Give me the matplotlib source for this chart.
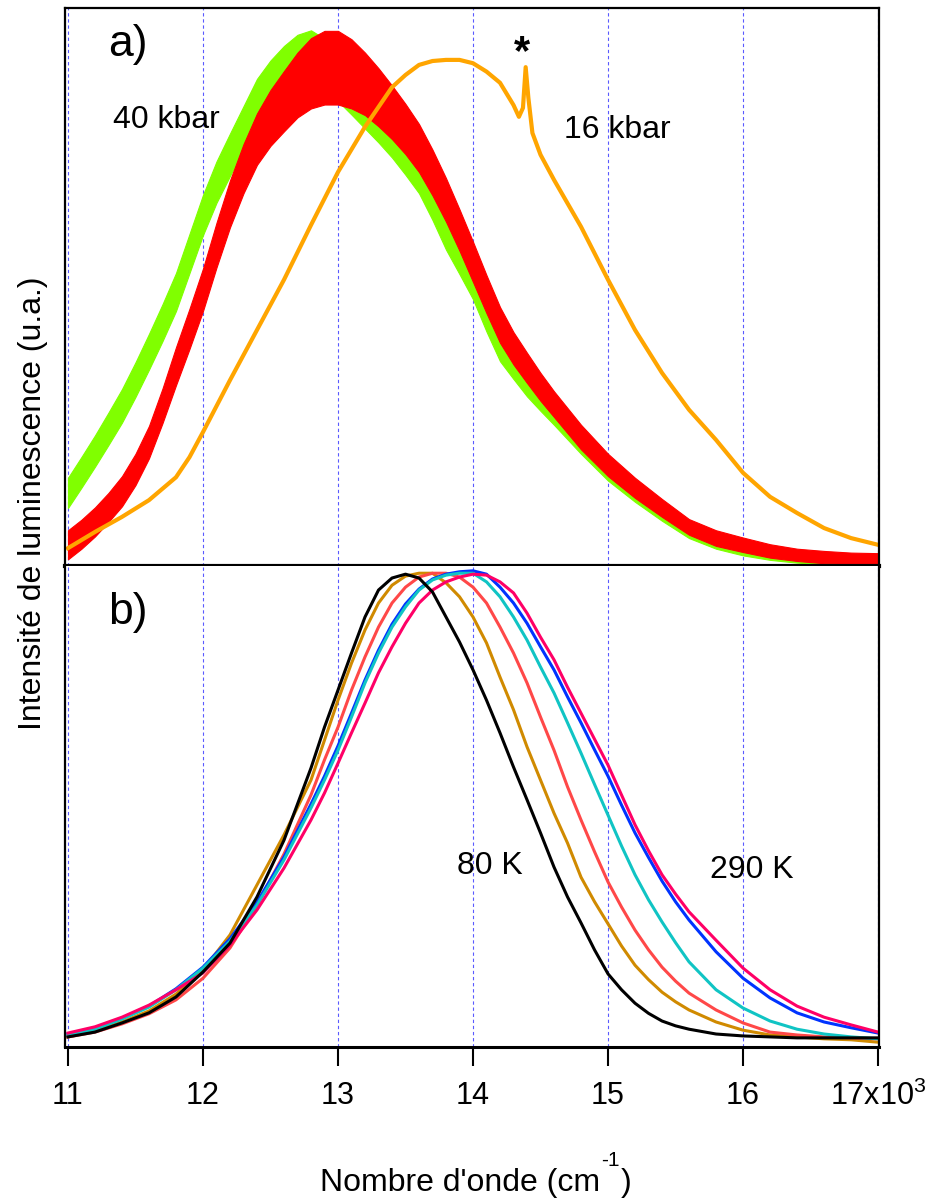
import matplotlib
matplotlib.use("Agg")
import matplotlib.pyplot as plt

plt.rcParams['font.family'] = ['Liberation Sans', 'DejaVu Sans']
plt.rcParams['mathtext.fontset'] = 'custom'
plt.rcParams['mathtext.rm'] = 'Liberation Sans'


# =========================
# Data - panel a) (pressure)
# =========================

wn_a = [11000, 11100, 11200, 11300, 11400, 11500, 11600, 11700,
        11800, 11900, 12000, 12100, 12200, 12300, 12400, 12500, 12600, 12700,
        12800, 12900, 13000, 13100, 13200, 13300, 13400, 13500, 13600, 13700,
        13800, 13900, 14000, 14100, 14200, 14300, 14400, 14500, 14600,
        14800, 15000, 15200, 15400, 15600, 15800, 16000, 16200, 16400, 16600,
        16800, 17000]

# 40 kbar (green), noisy: centre + noise half-width
green_a = [13.1, 16.8, 20.6, 24.6, 28.7, 33.4, 38.4, 43.6,
           49.1, 56.0, 62.9, 68.8, 73.7, 78.5, 83.3, 86.5, 89.0, 90.8,
           91.5, 90.0, 87.8, 85.2, 82.6, 80.0, 77.2, 74.0, 70.6, 65.6,
           60.2, 55.6, 51.0, 45.0, 39.6, 36.2, 33.0, 30.2, 27.6,
           22.2, 17.2, 13.2, 9.6, 6.4, 4.4, 3.1, 2.2, 1.6, 1.3,
           1.1, 0.9]
green_noise = [2.7, 2.75, 2.8, 2.9, 3.0, 3.1, 3.2, 3.3,
               3.4, 3.5, 3.6, 3.7, 3.8, 3.9, 4.0, 4.1, 4.2, 4.4,
               4.5, 4.5, 4.5, 4.3, 4.2, 4.1, 4.0, 3.9, 3.8, 3.6,
               3.5, 3.3, 3.2, 3.0, 2.9, 2.7, 2.6, 2.4, 2.3,
               2.1, 1.9, 1.7, 1.5, 1.4, 1.3, 1.2, 1.1, 1.0, 1.0,
               0.9, 0.9]

# intermediate pressure (red), noisy
red_a = [3.8, 5.7, 7.9, 10.5, 13.4, 17.3, 22.2, 28.7,
         35.8, 42.5, 49.5, 57.5, 64.9, 71.2, 76.5, 80.3, 83.3, 86.2,
         88.3, 89.3, 89.3, 88.2, 86.4, 84.0, 81.3, 78.3, 74.9, 70.5,
         65.6, 60.2, 54.5, 48.7, 43.2, 39.0, 35.5, 32.1, 29.0,
         23.1, 18.1, 14.0, 10.4, 7.0, 5.0, 3.8, 2.7, 2.0, 1.6,
         1.4, 1.3]
red_noise = [2.6, 2.6, 2.6, 2.6, 2.7, 2.8, 2.9, 3.1,
             3.4, 3.6, 3.8, 4.0, 4.2, 4.4, 4.6, 5.0, 5.4, 5.8,
             6.3, 6.6, 6.6, 6.2, 5.6, 5.2, 4.8, 4.5, 4.3, 4.1,
             3.9, 3.7, 3.6, 3.4, 3.2, 2.9, 2.7, 2.5, 2.3,
             2.2, 2.0, 1.8, 1.6, 1.4, 1.4, 1.3, 1.2, 1.1, 1.1,
             1.0, 1.0]

# 16 kbar (orange), with the sharp line marked by *
wn_orange = [11000, 11200, 11400, 11600, 11800, 11900, 12000, 12200, 12400, 12600,
             12800, 13000, 13200, 13400, 13500, 13600, 13700, 13800, 13900, 14000,
             14100, 14200, 14300, 14340, 14370, 14390, 14410, 14440, 14500, 14600,
             14800, 15000, 15200, 15400, 15600, 15800, 16000, 16200, 16400, 16600,
             16800, 17000]
orange_a = [3.2, 6.1, 8.8, 11.8, 15.9, 19.5, 24.0, 33.3, 42.3, 51.3,
            61.1, 70.6, 78.7, 85.8, 88.0, 89.8, 90.5, 90.7, 90.7, 90.1,
            88.6, 86.6, 82.6, 80.5, 82.1, 89.4, 83.9, 77.6, 73.7, 69.2,
            60.8, 51.3, 42.3, 34.6, 28.0, 22.6, 16.7, 12.4, 9.5, 6.8,
            5.0, 3.8]


# =========================
# Data - panel b) (temperature, 80 K -> 290 K)
# =========================

wn_b = [11000, 11200, 11400, 11600, 11800, 12000, 12200, 12400, 12600, 12800,
        12900, 13000, 13100, 13200, 13300, 13400, 13500, 13600, 13700, 13800,
        13900, 14000, 14100, 14200, 14300, 14400, 14500, 14600, 14700, 14800,
        14900, 15000, 15100, 15200, 15300, 15400, 15500, 15600,
        15800, 16000, 16200, 16400, 16600, 16800, 17000]

t_black = [2.1, 3.1, 5.0, 7.1, 10.4, 15.6, 21.6, 31.2, 43.0, 58.0,
           66.5, 74.2, 81.9, 89.4, 95.0, 97.5, 98.3, 97.5, 94.6, 89.4,
           84.2, 78.4, 72.1, 65.3, 58.2, 51.4, 44.5, 37.4, 31.2, 25.8,
           20.2, 15.2, 11.9, 9.1, 7.0, 5.4, 4.4, 3.7,
           2.7, 2.3, 2.1, 1.9, 1.9, 1.9, 1.9]
t_gold = [2.1, 3.3, 5.2, 7.5, 11.0, 16.0, 23.3, 33.7, 44.1, 55.5,
          63.8, 72.1, 79.8, 86.7, 92.3, 96.0, 97.9, 98.5, 98.5, 96.5,
          93.6, 89.4, 84.0, 76.9, 70.1, 62.4, 55.5, 48.6, 42.4, 35.3,
          30.2, 25.6, 21.0, 17.0, 14.0, 11.4, 9.4, 7.7,
          5.2, 3.5, 2.5, 2.1, 1.7, 1.5, 1.0]
t_lred = [2.1, 3.1, 4.8, 6.9, 9.8, 14.3, 20.6, 29.5, 40.1, 52.4,
          59.7, 66.5, 74.2, 81.1, 87.3, 92.3, 95.6, 97.7, 98.5, 98.5,
          97.7, 95.6, 92.3, 87.3, 81.9, 75.7, 68.6, 61.7, 54.1, 47.2,
          40.6, 34.3, 29.1, 24.3, 20.2, 16.6, 13.7, 11.2,
          7.7, 5.0, 3.1, 2.5, 2.1, 1.9, 1.7]
t_cyan = [2.5, 3.7, 5.8, 8.3, 11.9, 16.4, 22.0, 29.5, 38.9, 49.7,
          55.5, 61.7, 68.6, 75.7, 81.9, 87.3, 91.5, 95.0, 97.1, 98.1,
          98.5, 98.5, 96.7, 93.6, 89.4, 84.6, 79.0, 73.6, 67.4, 61.1,
          54.6, 48.2, 41.8, 35.8, 30.6, 26.0, 21.7, 17.7,
          11.9, 8.1, 5.4, 3.7, 2.7, 2.1, 1.7]
t_blue = [2.7, 4.0, 6.0, 8.5, 12.1, 16.6, 22.5, 30.1, 39.5, 50.5,
          56.3, 62.6, 69.4, 76.3, 82.5, 87.9, 92.1, 95.2, 97.3, 98.3,
          98.8, 99.0, 98.3, 95.6, 92.3, 88.1, 83.2, 78.4, 72.8, 67.4,
          61.8, 56.3, 50.3, 44.5, 39.4, 34.5, 30.2, 26.4,
          19.8, 14.3, 10.2, 7.1, 5.2, 4.0, 2.9]
t_magenta = [2.9, 4.2, 6.2, 8.7, 11.9, 15.4, 21.2, 28.5, 37.2, 47.2,
             52.8, 59.0, 65.3, 71.5, 77.8, 83.2, 88.1, 92.3, 95.0, 96.7,
             97.7, 98.3, 98.1, 96.7, 94.4, 90.2, 85.2, 80.5, 74.8, 69.4,
             64.0, 58.6, 52.4, 46.2, 40.8, 35.8, 31.8, 28.1,
             22.2, 16.4, 11.9, 8.5, 6.2, 4.6, 3.1]

xticks = [11000, 12000, 13000, 14000, 15000, 16000, 17000]
xtick_labels = ['11', '12', '13', '14', '15', '16', r'17x10$\mathregular{^3}$']


# =========================
# Figure
# =========================

fig = plt.figure(figsize=(9.31, 12.03), dpi=100)
ax_a = fig.add_axes([65/931, 1 - 566/1203, 814/931, 558/1203])
ax_b = fig.add_axes([65/931, 1 - 1047/1203, 814/931, 481/1203])

for ax in (ax_a, ax_b):
    ax.set_xlim(10978, 17007)
    ax.set_ylim(0, 100)
    ax.set_xticks(xticks)
    ax.set_yticks([])
    ax.grid(axis='x', color='#5a5aff', lw=0.8, linestyle=(0, (3, 2.5)))
    ax.set_axisbelow(True)
    for s in ax.spines.values():
        s.set_linewidth(1.6)

# --- panel a
g_lo = [c - n for c, n in zip(green_a, green_noise)]
g_hi = [c + n for c, n in zip(green_a, green_noise)]
r_lo = [c - n for c, n in zip(red_a, red_noise)]
r_hi = [c + n for c, n in zip(red_a, red_noise)]

ax_a.fill_between(wn_a, g_lo, g_hi, color='#80ff00', lw=0.8, ec='#80ff00')
ax_a.plot(wn_orange, orange_a, color='#ffa500', lw=3)
ax_a.fill_between(wn_a, r_lo, r_hi, color='#ff0000', lw=0.8, ec='#ff0000')

ax_a.tick_params(axis='x', bottom=False, labelbottom=False)
ax_a.spines['bottom'].set_linewidth(3)

ax_a.text(0.077, 0.934, 'a)', transform=ax_a.transAxes, fontsize=32,
          ha='center', va='center')
ax_a.text(0.125, 0.799, '40 kbar', transform=ax_a.transAxes, fontsize=23,
          ha='center', va='center')
ax_a.text(0.678, 0.781, '16 kbar', transform=ax_a.transAxes, fontsize=23,
          ha='center', va='center')
ax_a.text(0.561, 0.92, '*', transform=ax_a.transAxes, fontsize=30,
          fontweight='bold', ha='center', va='center')

# --- panel b
ax_b.plot(wn_b, t_gold, color='#d08a00', lw=2.2)
ax_b.plot(wn_b, t_lred, color='#ff4848', lw=2.2)
ax_b.plot(wn_b, t_blue, color='#0033ff', lw=2.2)
ax_b.plot(wn_b, t_cyan, color='#10c4c4', lw=2.2)
ax_b.plot(wn_b, t_magenta, color='#ff0066', lw=2.2)
ax_b.plot(wn_b, t_black, color='#000000', lw=2.2)

ax_b.spines['top'].set_visible(False)
ax_b.spines['bottom'].set_linewidth(2.2)
ax_b.set_xticklabels(xtick_labels)
ax_b.tick_params(axis='x', direction='out', length=13.5, width=1.5,
                 pad=11, labelsize=22)

ax_b.text(0.077, 0.904, 'b)', transform=ax_b.transAxes, fontsize=32,
          ha='center', va='center')
ax_b.text(0.522, 0.376, '80 K', transform=ax_b.transAxes, fontsize=23,
          ha='center', va='center')
ax_b.text(0.844, 0.368, '290 K', transform=ax_b.transAxes, fontsize=23,
          ha='center', va='center')

fig.text(33/931, 1 - 503/1203, 'Intensité de luminescence (u.a.)',
         rotation=90, fontsize=23, ha='center', va='center')

# x label with a raised "-1" (hyphen, as in the original)
rend = fig.canvas.get_renderer()
base_y = 1 - 1191/1203
t1 = fig.text(0, base_y, "Nombre d'onde (cm", fontsize=23, va='baseline')
t2 = fig.text(0, base_y + 25/1203, "-1", fontsize=15, va='baseline')
t3 = fig.text(0, base_y, ")", fontsize=23, va='baseline')
w1 = t1.get_window_extent(rend).width
w2 = t2.get_window_extent(rend).width
w3 = t3.get_window_extent(rend).width
x0 = 475 - (w1 + w2 + w3) / 2
t1.set_x(x0 / 931)
t2.set_x((x0 + w1 + 1) / 931)
t3.set_x((x0 + w1 + w2 + 2) / 931)

fig.savefig('out.png', dpi=100)
